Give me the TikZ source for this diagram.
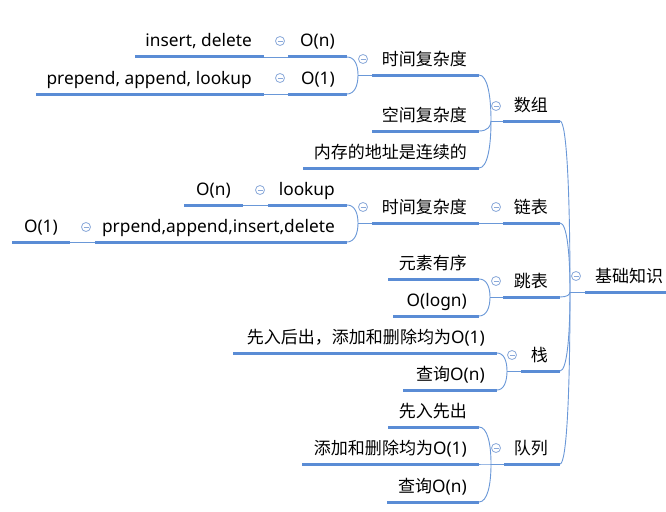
\documentclass[tikz,border=0pt]{standalone}
\usepackage{fontspec}
\setmainfont{Noto Sans}
\newfontfamily\cjk{Noto Sans CJK SC}[Scale=0.983]
\newfontfamily\lat{Noto Sans}
\usetikzlibrary{calc}
\definecolor{ulblue}{HTML}{5A8CD5}
\definecolor{lnblue}{HTML}{6A98D8}
\definecolor{cblue}{HTML}{8AA9DA}
\tikzset{
  ul/.style={draw=ulblue, line width=3pt},
  conn/.style={draw=lnblue, line width=0.9pt},
  txt/.style={inner sep=0pt, anchor=base east, font=\fontsize{17.3}{20}\selectfont},
  collapse/.style={circle, draw=cblue, line width=0.8pt, minimum size=9pt, inner sep=0pt,
    path picture={\draw[cblue, line width=0.8pt] ([xshift=-2.5pt]path picture bounding box.center) -- ([xshift=2.5pt]path picture bounding box.center);}},
}
\newcommand\mmtopic[5]{%
  \coordinate (#1-l) at (#2,#4);
  \coordinate (#1-r) at (#3,#4);
  \node[txt] (#1) at ({#3-12},{#4-10}) {#5};
  \draw[ul] (#1-l) -- (#1-r);
}
\newcommand\mmcurve[2]{%
  \draw[conn] let \p1=(#1), \p2=(#2) in (#1) .. controls ({\x1+0.7*(\x2-\x1)},\y1) and (\x2,{\y1+0.45*(\y2-\y1)}) .. (#2);
}
\begin{document}
\begin{tikzpicture}[x=1pt,y=-1pt]
\fill[white] (0,0) rectangle (666,511);
\useasboundingbox (0,0) rectangle (666,511);
% root
\coordinate (root-l) at (585,292);
\coordinate (root-r) at (666,292);
\node[txt, anchor=base west] (root) at (595,282) {\cjk 基础知识};
\draw[ul] (root-l) -- (root-r);
\coordinate (Jroot) at (570,292);
\draw[conn] (Jroot) -- (root-l);
% level 1
\mmtopic{sz}{503}{560}{121}{\cjk 数组}
\mmtopic{lb}{503}{560}{223}{\cjk 链表}
\mmtopic{tb}{503}{560}{297}{\cjk 跳表}
\mmtopic{zh}{521}{560}{371}{\cjk 栈}
\mmtopic{dl}{504}{560}{464}{\cjk 队列}
\mmcurve{sz-r}{Jroot}
\mmcurve{lb-r}{Jroot}
\mmcurve{tb-r}{Jroot}
\mmcurve{zh-r}{Jroot}
\mmcurve{dl-r}{Jroot}
% 数组
\coordinate (Jsz) at (491,121);
\draw[conn] (Jsz) -- (sz-l);
\mmtopic{szt}{372}{479}{75}{\cjk 时间复杂度}
\mmtopic{szk}{372}{479}{131}{\cjk 空间复杂度}
\mmtopic{szn}{303}{479}{168}{\cjk 内存的地址是连续的}
\mmcurve{szt-r}{Jsz}
\mmcurve{szk-r}{Jsz}
\mmcurve{szn-r}{Jsz}
\coordinate (Jszt) at (358,75);
\draw[conn] (Jszt) -- (szt-l);
\mmtopic{on1}{288}{347}{57}{O(n)}
\mmtopic{o11}{288}{347}{94}{O(1)}
\mmtopic{insdel}{135}{264}{57}{insert, delete}
\mmtopic{pal}{36}{264}{94}{prepend, append, lookup}
\draw[conn] (insdel-r) -- (on1-l);
\draw[conn] (pal-r) -- (o11-l);
\mmcurve{on1-r}{Jszt}
\mmcurve{o11-r}{Jszt}
% 链表
\mmtopic{lbt}{372}{479}{223}{\cjk 时间复杂度}
\draw[conn] (lbt-r) -- (lb-l);
\coordinate (Jlbt) at (358,223);
\draw[conn] (Jlbt) -- (lbt-l);
\mmtopic{lk}{268}{347}{205}{lookup}
\mmtopic{on2}{184}{243}{205}{O(n)}
\draw[conn] (on2-r) -- (lk-l);
\mmtopic{paid}{95}{347}{242}{prpend,append,insert,delete}
\mmtopic{o12}{12}{70}{242}{O(1)}
\draw[conn] (o12-r) -- (paid-l);
\mmcurve{lk-r}{Jlbt}
\mmcurve{paid-r}{Jlbt}
% 跳表
\coordinate (Jtb) at (490,297);
\draw[conn] (Jtb) -- (tb-l);
\mmtopic{ys}{388}{479}{279}{\cjk 元素有序}
\mmtopic{logn}{393}{479}{316}{O(logn)}
\mmcurve{ys-r}{Jtb}
\mmcurve{logn-r}{Jtb}
% 栈
\coordinate (Jzh) at (507,371);
\draw[conn] (Jzh) -- (zh-l);
\mmtopic{xrhc}{233}{497}{353}{\cjk 先入后出，添加和删除均为\lat O(1)}
\mmtopic{cx1}{403}{497}{390}{\cjk 查询\lat O(n)}
\mmcurve{xrhc-r}{Jzh}
\mmcurve{cx1-r}{Jzh}
% 队列
\coordinate (Jdl) at (491,464);
\draw[conn] (Jdl) -- (dl-l);
\mmtopic{xrxc}{388}{479}{427}{\cjk 先入先出}
\mmtopic{tj}{302}{479}{464}{\cjk 添加和删除均为\lat O(1)}
\mmtopic{cx2}{387}{479}{502}{\cjk 查询\lat O(n)}
\mmcurve{xrxc-r}{Jdl}
\mmcurve{tj-r}{Jdl}
\mmcurve{cx2-r}{Jdl}
% collapse markers
\node[collapse] (c-root) at (576,276) {};
\node[collapse] (c-sz) at (496,106) {};
\node[collapse] (c-lb) at (496,207) {};
\node[collapse] (c-tb) at (496,281) {};
\node[collapse] (c-zh) at (512,355) {};
\node[collapse] (c-dl) at (496,448) {};
\node[collapse] (c-szt) at (363,59) {};
\node[collapse] (c-on1) at (280,41) {};
\node[collapse] (c-o11) at (280,78) {};
\node[collapse] (c-lbt) at (363,207) {};
\node[collapse] (c-lk) at (260,190) {};
\node[collapse] (c-paid) at (86,227) {};
\end{tikzpicture}
\end{document}
